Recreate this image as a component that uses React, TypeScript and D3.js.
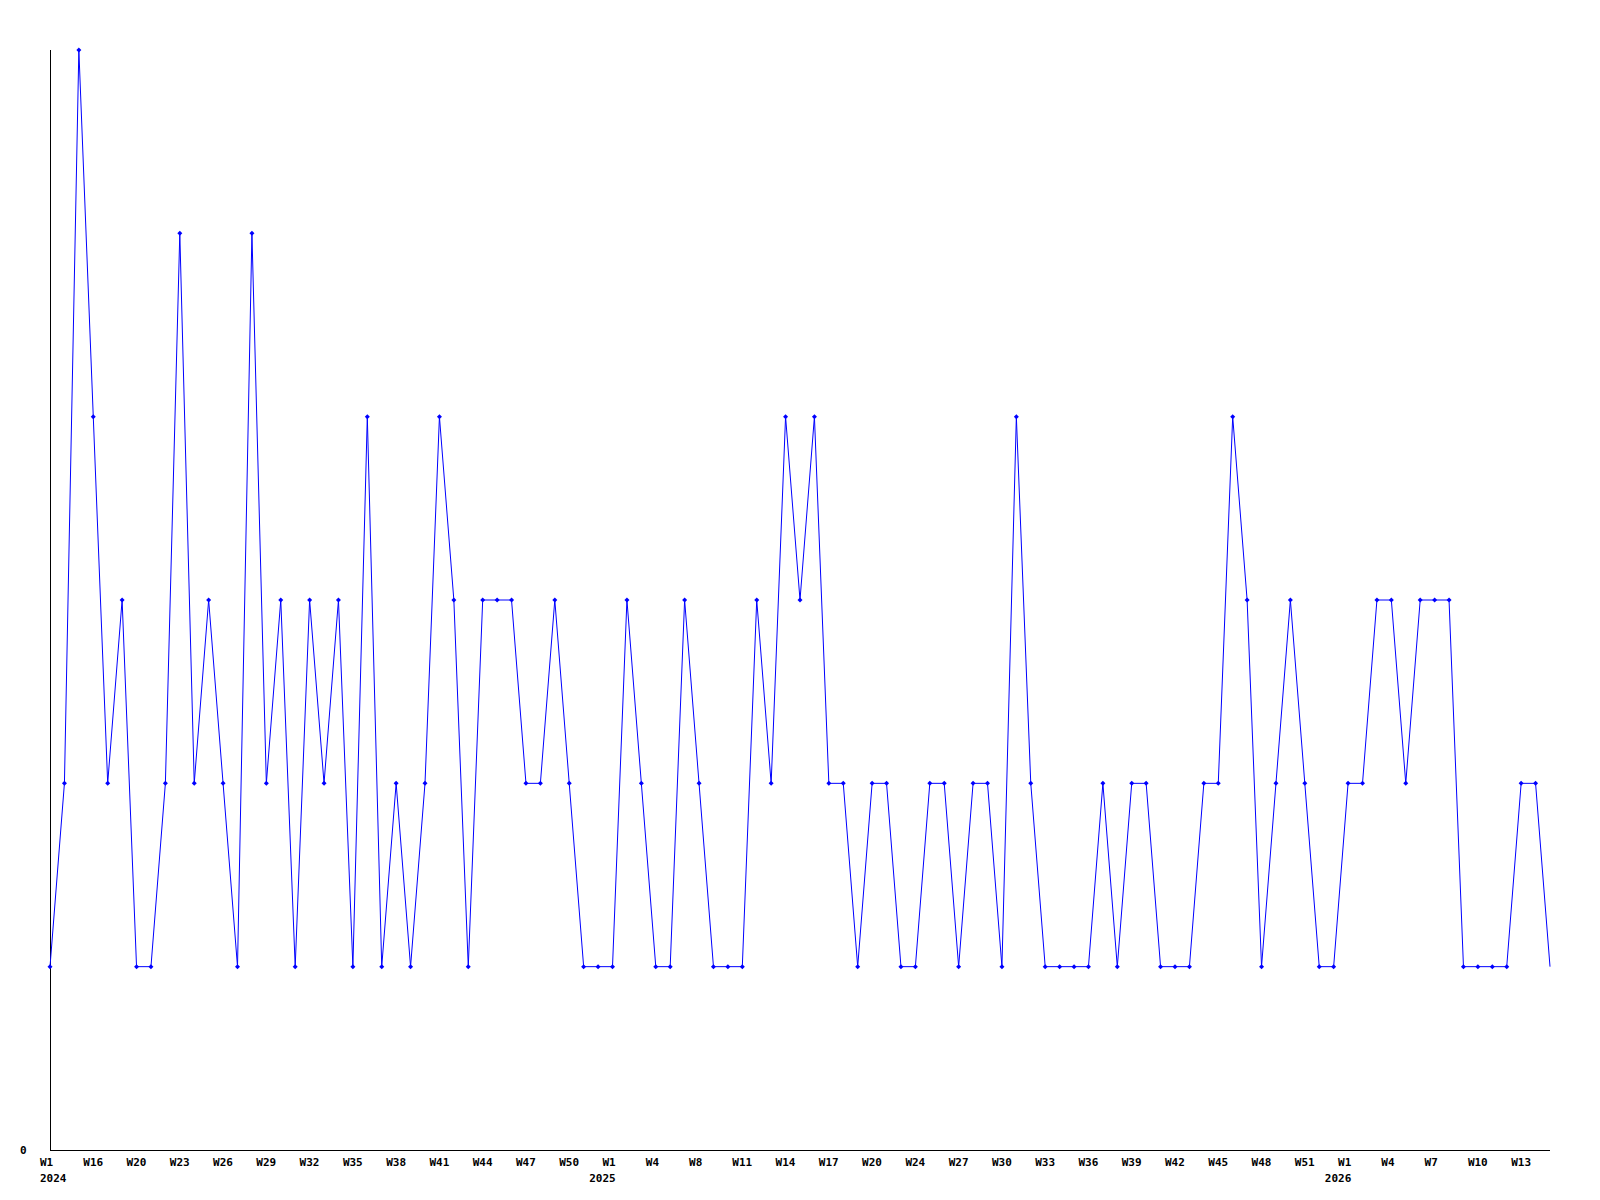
import React from "react";
import * as d3 from "d3";

const values: number[] = [
  1, 2, 6, 4, 2, 3, 1, 1, 2, 5,
  2, 3, 2, 1, 5, 2, 3, 1, 3, 2,
  3, 1, 4, 1, 2, 1, 2, 4, 3, 1,
  3, 3, 3, 2, 2, 3, 2, 1, 1, 1,
  3, 2, 1, 1, 3, 2, 1, 1, 1, 3,
  2, 4, 3, 4, 2, 2, 1, 2, 2, 1,
  1, 2, 2, 1, 2, 2, 1, 4, 2, 1,
  1, 1, 1, 2, 1, 2, 2, 1, 1, 1,
  2, 2, 4, 3, 1, 2, 3, 2, 1, 1,
  2, 2, 3, 3, 2, 3, 3, 3, 1, 1,
  1, 1, 2, 2, 1,
];

const tickLabels: string[] = [
  "W1", "W16", "W20", "W23", "W26", "W29", "W32", "W35", "W38", "W41", "W44", "W47", "W50",
  "W1", "W4", "W8", "W11", "W14", "W17", "W20", "W24", "W27", "W30", "W33", "W36", "W39", "W42", "W45", "W48", "W51",
  "W1", "W4", "W7", "W10", "W13",
];
const tickEvery = 3;

const yearLabels: { index: number; label: string }[] = [
  { index: 0, label: "2024" },
  { index: 39, label: "2025" },
  { index: 90, label: "2026" },
];

const yTickLabels: number[] = [0];

export default function App() {
  const W = 1600, H = 1200;
  const left = 50, right = 1550, top = 50, bottom = 1150;
  const idx = values.map((_, i) => i);
  const x = d3.scalePoint<number>().domain(idx).range([left, right]);
  const y = d3.scaleLinear().domain([0, 6]).range([bottom, top]);
  const line = d3.line<number>().x((_, i) => x(i)!).y((d) => y(d));
  const font = "'DejaVu Sans Mono', monospace";
  const charW = 6.62;
  return (
    <div style={{ position: "absolute", left: 0, top: 0 }}>
      <svg width={W} height={H} style={{ display: "block", background: "#fff" }}>
        <line x1={left + 0.5} x2={left + 0.5} y1={top} y2={bottom} stroke="#000" strokeWidth={1} shapeRendering="crispEdges" />
        <line x1={left} x2={right} y1={bottom + 0.5} y2={bottom + 0.5} stroke="#000" strokeWidth={1} shapeRendering="crispEdges" />
        {yTickLabels.map((v) => (
          <text key={v} x={20} y={y(v) + 4} fontFamily={font} fontWeight="bold" fontSize={11} fill="#000">{v}</text>
        ))}
        {tickLabels.map((t, k) => (
          <text key={"t" + k} x={x(k * tickEvery)! - 10} y={1166} fontFamily={font} fontWeight="bold" fontSize={11} fill="#000">{t}</text>
        ))}
        {yearLabels.map((yl) => {
          const tl = tickLabels[yl.index / tickEvery] || "";
          const endX = x(yl.index)! - 10 + tl.length * charW;
          const startX = x(yl.index)! - 10;
          const first = yl.index === 0;
          return (
            <text key={"y" + yl.label} x={first ? startX : endX} textAnchor={first ? "start" : "end"} y={1182} fontFamily={font} fontWeight="bold" fontSize={11} fill="#000">{yl.label}</text>
          );
        })}
        <path d={line(values) || ""} fill="none" stroke="#0000ff" strokeWidth={1} />
        {values.slice(0, values.length - 1).map((v, i) => {
          const cx = x(i)!, cy = y(v);
          return (
            <path key={"m" + i} d={`M${cx - 2.5},${cy} L${cx},${cy - 2.5} L${cx + 2.5},${cy} L${cx},${cy + 2.5} Z`} fill="#0000ff" />
          );
        })}
      </svg>
    </div>
  );
}
